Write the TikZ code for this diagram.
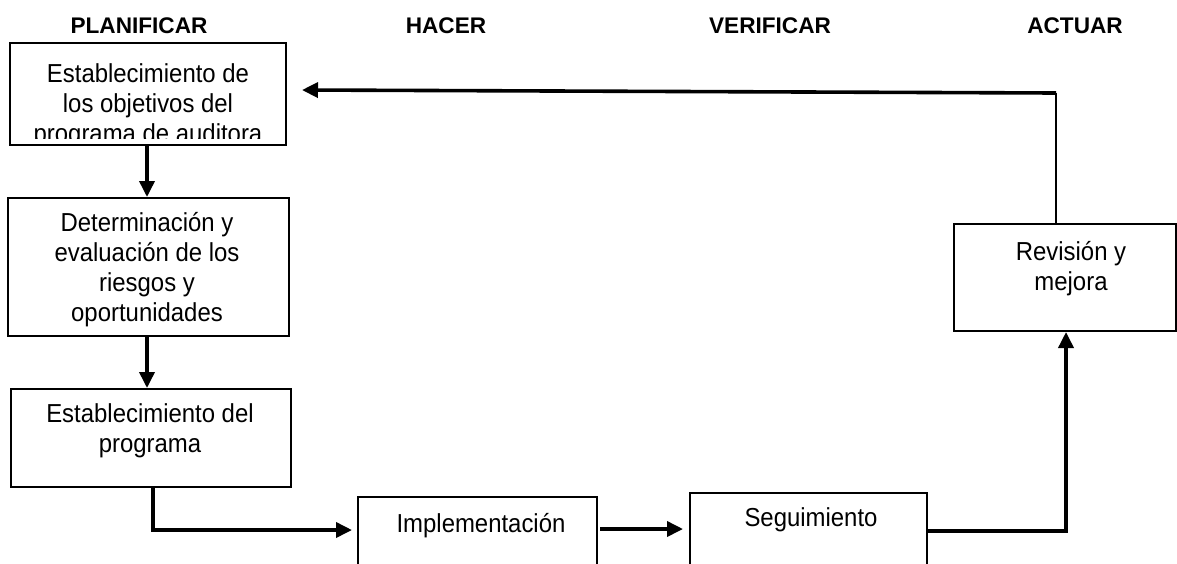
\documentclass[tikz,border=0pt]{standalone}
\usepackage{fontspec}
\setmainfont{Liberation Sans}
\newfontfamily\bodyfont[FakeStretch=0.92]{Liberation Sans}
\usetikzlibrary{arrows.meta}
\begin{document}
\begin{tikzpicture}[x=1pt,y=-1pt,
  boxline/.style={draw=black,line width=2pt},
  txt/.style={font=\bodyfont\fontsize{26}{30}\selectfont,align=center,inner sep=0pt,anchor=north},
  txtb/.style={font=\bodyfont\fontsize{26}{30}\selectfont,inner sep=0pt,anchor=base},
  head/.style={font=\fontsize{22.6}{28}\selectfont\bfseries,inner sep=0pt,anchor=base},
  conn/.style={line width=3.6pt,-{Triangle[length=16pt,width=15pt]}},
]
\useasboundingbox (0,0) rectangle (1177,563);
% headers
\node[head] (h1) at (139,33) {PLANIFICAR};
\node[head] (h2) at (446,33) {HACER};
\node[head] (h3) at (770,33) {VERIFICAR};
\node[head] (h4) at (1075,33) {ACTUAR};
% boxes
\coordinate (b1nw) at (10,43); \coordinate (b1se) at (286,145);
\begin{scope}
\clip (10,43) rectangle (286,138);
\node[txt] (t1) at (148,63) {Establecimiento de\\los objetivos del\\programa de auditora};
\end{scope}
\draw[boxline] (b1nw) rectangle (b1se);
\node[boxline,minimum width=281pt,minimum height=138pt,inner sep=0pt,anchor=north west] (b2) at (7,197) {};
\node[txt] (t2) at (147,212) {Determinación y\\evaluación de los\\riesgos y\\oportunidades};
\node[boxline,minimum width=280pt,minimum height=98pt,inner sep=0pt,anchor=north west] (b3) at (10,388) {};
\node[txt] (t3) at (150,403) {Establecimiento del\\programa};
\node[boxline,minimum width=239pt,minimum height=110pt,inner sep=0pt,anchor=north west] (b4) at (357,496) {};
\node[txtb] (t4) at (481,532) {Implementación};
\node[boxline,minimum width=237pt,minimum height=110pt,inner sep=0pt,anchor=north west] (b5) at (689,492) {};
\node[txtb] (t5) at (811,526) {Seguimiento};
\node[boxline,minimum width=222pt,minimum height=107pt,inner sep=0pt,anchor=north west] (b6) at (953,223) {};
\node[txt] (t6) at (1071,241) {Revisión y\\mejora};
% named connector points
\coordinate (b1s) at (147,145);
\coordinate (c3) at (153,530);
\coordinate (c5) at (1066,531);
\coordinate (c6) at (1056,93);
\coordinate (b1e) at (302,90);
% connectors
\draw[conn] (b1s) -- (b2.north -| b1s);
\draw[conn] (b2.south -| b1s) -- (b3.north -| b1s);
\draw[conn] (b3.south -| c3) -- (c3) -- (352,530);
\draw[conn] (600,529) -- (683,529);
\draw[conn] (b5.east |- c5) -- (c5) -- (b6.south -| c5);
\draw[line width=2.4pt] (b6.north -| c6) -- (c6);
\draw[conn] (c6) -- (b1e);
\end{tikzpicture}
\end{document}
